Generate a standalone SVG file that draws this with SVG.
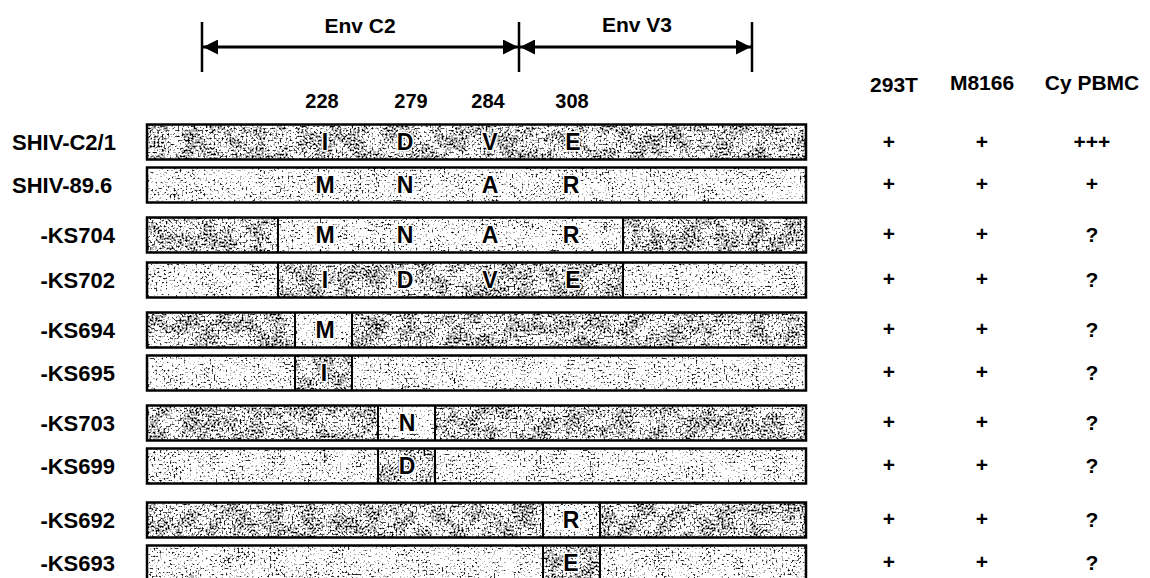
<svg xmlns="http://www.w3.org/2000/svg" width="1150" height="578" viewBox="0 0 1150 578">
<style>
text{font-family:"Liberation Sans",Arial,sans-serif;font-weight:bold;fill:#000}
.lbl{font-size:22px}
.hdr{font-size:21px;text-anchor:middle}
.num{font-size:20px;text-anchor:middle}
.aa{font-size:23px;text-anchor:middle;stroke:#fff;stroke-width:3px;paint-order:stroke;stroke-linejoin:round}
.val{font-size:21px;text-anchor:middle}
.bg{fill:#fff}
.dk{fill:#000;filter:url(#fdk)}
.lt{fill:#000;filter:url(#flt)}
.box{fill:none;stroke:#000;stroke-width:2.5}
.div{stroke:#000;stroke-width:2}
.tick{stroke:#000;stroke-width:2.5}
.arr{stroke:#000;stroke-width:3;fill:none;marker-start:url(#ah);marker-end:url(#ah)}
</style>
<defs>
<marker id="ah" viewBox="0 0 10 10" refX="10" refY="5" markerWidth="8" markerHeight="5" markerUnits="strokeWidth" orient="auto-start-reverse">
<path d="M0,0 L10,5 L0,10 z" fill="#000"/>
</marker>
<filter id="fdk" x="0" y="0" width="1" height="1" color-interpolation-filters="sRGB">
<feTurbulence type="fractalNoise" baseFrequency="0.5" numOctaves="4" seed="5" result="n"/>
<feColorMatrix in="n" type="matrix" values="0 0 0 0 0  0 0 0 0 0  0 0 0 0 0  1 0 0 0 0" result="a"/>
<feTurbulence type="fractalNoise" baseFrequency="0.06" numOctaves="2" seed="21" result="m"/>
<feColorMatrix in="m" type="matrix" values="0 0 0 0 0  0 0 0 0 0  0 0 0 0 0  1 0 0 0 0" result="b"/>
<feComposite in="a" in2="b" operator="arithmetic" k1="0" k2="1" k3="0.3" k4="-0.15" result="c"/>
<feComponentTransfer in="c" result="t"><feFuncA type="discrete" tableValues="0 0 0 0 0 0.3 0.7 1 1 1"/></feComponentTransfer>
<feComposite in="t" in2="SourceAlpha" operator="in"/>
</filter>
<filter id="flt" x="0" y="0" width="1" height="1" color-interpolation-filters="sRGB">
<feTurbulence type="fractalNoise" baseFrequency="0.5" numOctaves="4" seed="11" result="n"/>
<feColorMatrix in="n" type="matrix" values="0 0 0 0 0  0 0 0 0 0  0 0 0 0 0  1 0 0 0 0" result="a"/>
<feTurbulence type="fractalNoise" baseFrequency="0.06" numOctaves="2" seed="33" result="m"/>
<feColorMatrix in="m" type="matrix" values="0 0 0 0 0  0 0 0 0 0  0 0 0 0 0  1 0 0 0 0" result="b"/>
<feComposite in="a" in2="b" operator="arithmetic" k1="0" k2="1" k3="0.3" k4="-0.15" result="c"/>
<feComponentTransfer in="c" result="t"><feFuncA type="discrete" tableValues="0 0 0 0 0 0 0.3 0.8 1 1"/></feComponentTransfer>
<feComposite in="t" in2="SourceAlpha" operator="in"/>
</filter>
</defs>
<rect width="1150" height="578" fill="#fff"/>

<g id="header">
<text class="hdr" x="360" y="33">Env C2</text>
<text class="hdr" x="637" y="32">Env V3</text>
<text class="num" x="322" y="108">228</text>
<text class="num" x="411" y="108">279</text>
<text class="num" x="488" y="108">284</text>
<text class="num" x="572" y="108">308</text>
<text class="val" x="894" y="92">293T</text>
<text class="val" x="982" y="90">M8166</text>
<text class="val" x="1092" y="90">Cy PBMC</text>
</g>

<g id="connectors">
<line class="tick" x1="202" y1="22" x2="202" y2="72"/>
<line class="tick" x1="519" y1="22" x2="519" y2="72"/>
<line class="tick" x1="752" y1="22" x2="752" y2="72"/>
<line class="arr" x1="203" y1="47" x2="518" y2="47"/>
<line class="arr" x1="520" y1="47" x2="751" y2="47"/>
</g>

<g id="row-SHIV-C2-1">
<text class="lbl" x="12" y="150">SHIV-C2/1</text>
<rect class="bg" x="147" y="124.5" width="659" height="35"/>
<rect class="dk" x="147" y="124.5" width="659" height="35"/>
<rect class="box" x="147" y="124.5" width="659" height="35"/>
<text class="aa" x="325" y="150">I</text><text class="aa" x="405" y="150">D</text><text class="aa" x="490" y="150">V</text><text class="aa" x="573" y="150">E</text>
<text class="val" x="889" y="149">+</text><text class="val" x="982" y="149">+</text><text class="val" x="1092" y="149">+++</text>
</g>

<g id="row-SHIV-89-6">
<text class="lbl" x="12" y="193">SHIV-89.6</text>
<rect class="bg" x="147" y="167.5" width="659" height="35"/>
<rect class="lt" x="147" y="167.5" width="659" height="35"/>
<rect class="box" x="147" y="167.5" width="659" height="35"/>
<text class="aa" x="325" y="193">M</text><text class="aa" x="405" y="193">N</text><text class="aa" x="490" y="193">A</text><text class="aa" x="571" y="193">R</text>
<text class="val" x="889" y="191">+</text><text class="val" x="982" y="191">+</text><text class="val" x="1092" y="191">+</text>
</g>

<g id="row-KS704">
<text class="lbl" x="115" y="243" text-anchor="end">-KS704</text>
<rect class="bg" x="147" y="217.5" width="659" height="35"/>
<rect class="dk" x="147" y="217.5" width="131" height="35"/>
<rect class="lt" x="278" y="217.5" width="345" height="35"/>
<rect class="dk" x="623" y="217.5" width="183" height="35"/>
<line class="div" x1="278" y1="217.5" x2="278" y2="252.5"/><line class="div" x1="623" y1="217.5" x2="623" y2="252.5"/>
<rect class="box" x="147" y="217.5" width="659" height="35"/>
<text class="aa" x="325" y="243">M</text><text class="aa" x="405" y="243">N</text><text class="aa" x="490" y="243">A</text><text class="aa" x="571" y="243">R</text>
<text class="val" x="889" y="241">+</text><text class="val" x="982" y="241">+</text><text class="val" x="1092" y="242">?</text>
</g>

<g id="row-KS702">
<text class="lbl" x="115" y="288" text-anchor="end">-KS702</text>
<rect class="bg" x="147" y="262.5" width="659" height="35"/>
<rect class="lt" x="147" y="262.5" width="131" height="35"/>
<rect class="dk" x="278" y="262.5" width="345" height="35"/>
<rect class="lt" x="623" y="262.5" width="183" height="35"/>
<line class="div" x1="278" y1="262.5" x2="278" y2="297.5"/><line class="div" x1="623" y1="262.5" x2="623" y2="297.5"/>
<rect class="box" x="147" y="262.5" width="659" height="35"/>
<text class="aa" x="325" y="288">I</text><text class="aa" x="405" y="288">D</text><text class="aa" x="490" y="288">V</text><text class="aa" x="573" y="288">E</text>
<text class="val" x="889" y="286">+</text><text class="val" x="982" y="286">+</text><text class="val" x="1092" y="287">?</text>
</g>

<g id="row-KS694">
<text class="lbl" x="115" y="338" text-anchor="end">-KS694</text>
<rect class="bg" x="147" y="312.5" width="659" height="35"/>
<rect class="dk" x="147" y="312.5" width="148" height="35"/>
<rect class="lt" x="295" y="312.5" width="57" height="35"/>
<rect class="dk" x="352" y="312.5" width="454" height="35"/>
<line class="div" x1="295" y1="312.5" x2="295" y2="347.5"/><line class="div" x1="352" y1="312.5" x2="352" y2="347.5"/>
<rect class="box" x="147" y="312.5" width="659" height="35"/>
<text class="aa" x="325" y="338">M</text>
<text class="val" x="889" y="336">+</text><text class="val" x="982" y="336">+</text><text class="val" x="1092" y="337">?</text>
</g>

<g id="row-KS695">
<text class="lbl" x="115" y="381" text-anchor="end">-KS695</text>
<rect class="bg" x="147" y="355.5" width="659" height="35"/>
<rect class="lt" x="147" y="355.5" width="148" height="35"/>
<rect class="dk" x="295" y="355.5" width="57" height="35"/>
<rect class="lt" x="352" y="355.5" width="454" height="35"/>
<line class="div" x1="295" y1="355.5" x2="295" y2="390.5"/><line class="div" x1="352" y1="355.5" x2="352" y2="390.5"/>
<rect class="box" x="147" y="355.5" width="659" height="35"/>
<text class="aa" x="324" y="381">I</text>
<text class="val" x="889" y="379">+</text><text class="val" x="982" y="379">+</text><text class="val" x="1092" y="380">?</text>
</g>

<g id="row-KS703">
<text class="lbl" x="115" y="431" text-anchor="end">-KS703</text>
<rect class="bg" x="147" y="405.5" width="659" height="35"/>
<rect class="dk" x="147" y="405.5" width="231" height="35"/>
<rect class="lt" x="378" y="405.5" width="57" height="35"/>
<rect class="dk" x="435" y="405.5" width="371" height="35"/>
<line class="div" x1="378" y1="405.5" x2="378" y2="440.5"/><line class="div" x1="435" y1="405.5" x2="435" y2="440.5"/>
<rect class="box" x="147" y="405.5" width="659" height="35"/>
<text class="aa" x="407" y="431">N</text>
<text class="val" x="889" y="429">+</text><text class="val" x="982" y="429">+</text><text class="val" x="1092" y="430">?</text>
</g>

<g id="row-KS699">
<text class="lbl" x="115" y="474" text-anchor="end">-KS699</text>
<rect class="bg" x="147" y="448.5" width="659" height="35"/>
<rect class="lt" x="147" y="448.5" width="231" height="35"/>
<rect class="dk" x="378" y="448.5" width="57" height="35"/>
<rect class="lt" x="435" y="448.5" width="371" height="35"/>
<line class="div" x1="378" y1="448.5" x2="378" y2="483.5"/><line class="div" x1="435" y1="448.5" x2="435" y2="483.5"/>
<rect class="box" x="147" y="448.5" width="659" height="35"/>
<text class="aa" x="407" y="474">D</text>
<text class="val" x="889" y="472">+</text><text class="val" x="982" y="472">+</text><text class="val" x="1092" y="473">?</text>
</g>

<g id="row-KS692">
<text class="lbl" x="115" y="528" text-anchor="end">-KS692</text>
<rect class="bg" x="147" y="502.5" width="659" height="35"/>
<rect class="dk" x="147" y="502.5" width="396" height="35"/>
<rect class="lt" x="543" y="502.5" width="57" height="35"/>
<rect class="dk" x="600" y="502.5" width="206" height="35"/>
<line class="div" x1="543" y1="502.5" x2="543" y2="537.5"/><line class="div" x1="600" y1="502.5" x2="600" y2="537.5"/>
<rect class="box" x="147" y="502.5" width="659" height="35"/>
<text class="aa" x="571" y="528">R</text>
<text class="val" x="889" y="526">+</text><text class="val" x="982" y="526">+</text><text class="val" x="1092" y="527">?</text>
</g>

<g id="row-KS693">
<text class="lbl" x="115" y="571" text-anchor="end">-KS693</text>
<rect class="bg" x="147" y="545.5" width="659" height="35"/>
<rect class="lt" x="147" y="545.5" width="396" height="35"/>
<rect class="dk" x="543" y="545.5" width="57" height="35"/>
<rect class="lt" x="600" y="545.5" width="206" height="35"/>
<line class="div" x1="543" y1="545.5" x2="543" y2="580.5"/><line class="div" x1="600" y1="545.5" x2="600" y2="580.5"/>
<rect class="box" x="147" y="545.5" width="659" height="35"/>
<text class="aa" x="571" y="571">E</text>
<text class="val" x="889" y="569">+</text><text class="val" x="982" y="569">+</text><text class="val" x="1092" y="570">?</text>
</g>
</svg>
